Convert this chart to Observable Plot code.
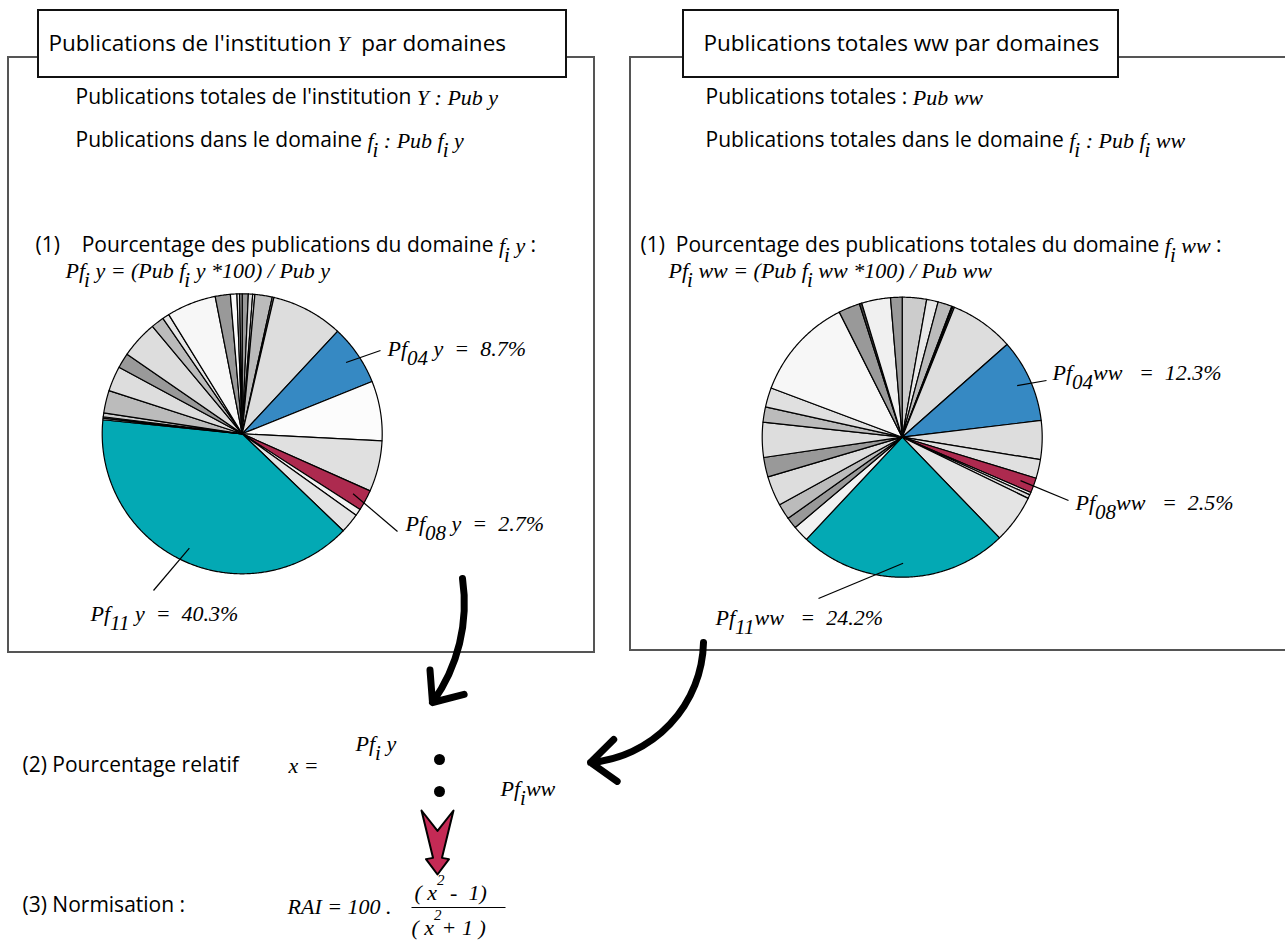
<!DOCTYPE html>
<html><head><meta charset="utf-8">
<script src="https://cdn.jsdelivr.net/npm/d3@7"></script>
<script src="https://cdn.jsdelivr.net/npm/@observablehq/plot@0.6"></script>
<style>body{margin:0;background:#fff}</style>
</head><body><div id="chart"></div>
<script>
// ---------------- DATA ----------------
// Left pie: publications of institution Y per domain (percent, clockwise from 12 o'clock)
const domainsY = ["d01","d02","d03","d05","d06","d07","04","d09","d10","08","d12","d13","11","d14","d15","d16","d17","d18","d19","d20","d21","d22","d23","d24","d25","d26","d27"];
const shareY   = [0.7, 0.5, 0.25, 2.0, 0.2, 8.3, 7.0, 6.9, 5.9, 2.4, 0.8, 2.3, 39.5, 0.2, 0.15, 0.45, 2.6, 2.9, 1.75, 4.3, 1.5, 0.8, 5.7, 1.75, 0.75, 0.3, 0.3];
// Right pie: world-wide publications per domain
const domainsWW = ["e01","e02","e03","e05","e06","e07","04","e09","e10","08","e12","e13","e14","11","e15","e16","e17","e18","e19","e20","e21","e22","e23","e24","e25","e26","e27"];
const shareWW   = [2.8, 1.33, 1.64, 0.14, 0.17, 7.39, 9.61, 4.47, 2.17, 1.72, 0.3, 0.44, 5.58, 24.2, 1.86, 1.31, 1.83, 3.44, 2.25, 4.03, 1.75, 2.25, 11.86, 2.47, 0.28, 3.33, 1.33];
// labelled domains and their printed percentages
const labelDomains = ["04", "08", "11"];
const labelY  = ["8.7%", "2.7%", "40.3%"];
const labelWW = ["12.3%", "2.5%", "24.2%"];

// ---------------- STYLES ----------------
const highlight = {"04": "#3689c3", "08": "#ad2a4f", "11": "#03a9b4"};
const greyY  = ["#999","#ddd","#eee","#bbb","#999","#ddd",null,"#fcfcfc","#e0e0e0",null,"#f2f2f2","#e4e4e4",null,"#ddd","#999","#ccc","#bbb","#ddd","#999","#ddd","#bbb","#e6e6e6","#f7f7f7","#999","#fafafa","#ddd","#999"];
const greyWW = ["#ccc","#e8e8e8","#bbb","#999","#ddd","#ddd",null,"#ddd","#e0e0e0",null,"#f2f2f2","#ddd","#e4e4e4",null,"#f2f2f2","#999","#bbb","#ddd","#999","#ddd","#bbb","#e0e0e0","#f7f7f7","#999","#444","#f0f0f0","#999"];
const FS = {title: 22.5, body: 21, math: 22, label: 22};
const FONT = {sans: "Open Sans", serif: "Liberation Serif"};
const NB = "\u00a0";

// ---------------- LAYOUT ----------------
const pieL = {cx: 241.7, cy: 433.3, r: 140};
const pieR = {cx: 901.7, cy: 436.7, r: 140};
const boxes = [
  {x1: 8, y1: 57, x2: 594, y2: 652, kind: "outer"},
  {x1: 630, y1: 57, x2: 1330, y2: 650, kind: "outer"},
  {x1: 38, y1: 10, x2: 566, y2: 77, kind: "title"},
  {x1: 683, y1: 10, x2: 1118, y2: 77, kind: "title"}
];
const labelAnchorsY  = [{x: 380, y: 350, tx: 387, ty: 348}, {x: 397, y: 531, tx: 405, ty: 523}, {x: 153, y: 590, tx: 90, ty: 613}];
const labelAnchorsWW = [{x: 1046, y: 380, tx: 1052, ty: 372}, {x: 1068, y: 500, tx: 1075, ty: 502}, {x: 818, y: 598, tx: 715, ty: 617}];

// ---------------- HELPERS ----------------
const ctx = document.createElement("canvas").getContext("2d");
function measure(text, fam, size) {
  ctx.font = (fam === "serif" ? "italic " : "") + size + "px '" + FONT[fam] + "'";
  return ctx.measureText(text).width;
}
function layoutRuns(x0, y0, runs) {
  const out = []; let x = x0;
  for (const [text, kind] of runs) {
    let fam = "serif", size = FS.math, dx = 0, dy = 0;
    if (kind === "t") { fam = "sans"; size = FS.title; }
    else if (kind === "s") { fam = "sans"; size = FS.body; }
    else if (kind === "_") { size = FS.math - 1; dx = -1; dy = 10; }
    else if (kind === "^") { size = 15; dy = -12; }
    else if (kind === "L") { size = FS.label; }
    else if (kind === "L_") { size = FS.label - 1; dy = 10; }
    x += dx;
    const lead = text.match(/^\s*/)[0], trimmed = text.trim();
    if (trimmed) out.push({x: x + measure(lead, fam, size), y: y0 + dy, text: trimmed, fam, size});
    x += measure(text, fam, size);
  }
  return out;
}
function pieSlices(values, domains, greys, p, key) {
  const arcs = d3.pie().sort(null).value(d => d)(values);
  const pts = [];
  arcs.forEach((a, i) => {
    const id = key + i, fill = highlight[domains[i]] || greys[i];
    pts.push({id, x: p.cx, y: p.cy, fill});
    const n = Math.max(2, Math.ceil((a.endAngle - a.startAngle) / (Math.PI / 360)));
    for (let k = 0; k <= n; k++) {
      const t = a.startAngle + (a.endAngle - a.startAngle) * k / n;
      pts.push({id, x: p.cx + p.r * Math.sin(t), y: p.cy - p.r * Math.cos(t), fill});
    }
    pts.push({id, x: p.cx, y: p.cy, fill});
  });
  return {pts, arcs};
}
const L = pieSlices(shareY, domainsY, greyY, pieL, "L");
const R = pieSlices(shareWW, domainsWW, greyWW, pieR, "R");

function leader(arcs, domains, p, dom, anchor) {
  const a = arcs[domains.indexOf(dom)], m = (a.startAngle + a.endAngle) / 2;
  return {x1: p.cx + 0.9 * p.r * Math.sin(m), y1: p.cy - 0.9 * p.r * Math.cos(m), x2: anchor.x, y2: anchor.y};
}
const segments = [];
labelDomains.forEach((d, i) => {
  segments.push(leader(L.arcs, domainsY, pieL, d, labelAnchorsY[i]));
  segments.push(leader(R.arcs, domainsWW, pieR, d, labelAnchorsWW[i]));
});
segments.push({x1: 411, y1: 907, x2: 505, y2: 907});

// ---------------- TEXTS ----------------
let texts = [];
const add = (x, y, runs) => { texts = texts.concat(layoutRuns(x, y, runs)); };
// left panel
add(48, 43, [["Publications de l'institution ", "t"], ["Y", "i"], [NB + " par domaines", "t"]]);
add(75, 97, [["Publications totales de l'institution ", "s"], ["Y : Pub y", "i"]]);
add(75, 140, [["Publications dans le domaine ", "s"], ["f", "i"], ["i", "_"], [" : Pub ", "i"], ["f", "i"], ["i", "_"], [" y", "i"]]);
add(35, 245, [["(1)" + NB + NB + NB + " Pourcentage des publications du domaine ", "s"], ["f", "i"], ["i", "_"], [" y", "i"], [" :", "s"]]);
add(65, 270, [["Pf", "i"], ["i", "_"], [" y" + NB + "=" + NB + "(Pub" + NB + "f", "i"], ["i", "_"], [" y" + NB + "*100)" + NB + "/" + NB + "Pub" + NB + "y", "i"]]);
// right panel
add(703, 43, [["Publications totales ww par domaines", "t"]]);
add(705, 97, [["Publications totales : ", "s"], ["Pub ww", "i"]]);
add(705, 140, [["Publications totales dans le domaine ", "s"], ["f", "i"], ["i", "_"], [" : Pub ", "i"], ["f", "i"], ["i", "_"], [" ww", "i"]]);
add(640, 245, [["(1)" + NB + " Pourcentage des publications totales du domaine ", "s"], ["f", "i"], ["i", "_"], [" ww", "i"], [" :", "s"]]);
add(668, 270, [["Pf", "i"], ["i", "_"], [" ww" + NB + "=" + NB + "(Pub" + NB + "f", "i"], ["i", "_"], [" ww" + NB + "*100)" + NB + "/" + NB + "Pub" + NB + "ww", "i"]]);
// pie labels
labelDomains.forEach((d, i) => {
  const a = labelAnchorsY[i], b = labelAnchorsWW[i];
  add(a.tx, a.ty, [["Pf", "L"], [d, "L_"], [" y" + NB + " =" + NB + " " + labelY[i], "L"]]);
  add(b.tx, b.ty, [["Pf", "L"], [d, "L_"], ["ww" + NB + NB + " =" + NB + " " + labelWW[i], "L"]]);
});
// bottom
add(22, 765, [["(2) Pourcentage relatif", "s"]]);
add(288, 765, [["x =", "i"]]);
add(355, 743, [["Pf", "L"], ["i", "L_"], [" y", "L"]]);
add(500, 788, [["Pf", "L"], ["i", "L_"], ["ww", "L"]]);
add(22, 905, [["(3) Normisation :", "s"]]);
add(287, 906, [["RAI = 100 .", "i"]]);
add(414, 892, [["( x", "i"], ["2", "^"], [NB + "-" + NB + " 1)", "i"]]);
add(411, 927, [["( x", "i"], ["2", "^"], ["+ 1 )", "i"]]);

const colonDots = [{x: 439, y: 759}, {x: 439, y: 791}];
const bendL = [{x1: 462, y1: 578, x2: 432, y2: 702}];
const bendR = [{x1: 703, y1: 642, x2: 590, y2: 762}];
// red down arrow (notched tail), built from its box
const redBox = {cx: 437, top: 810, w: 32, h: 64};
const redShape = [[0,0],[0.5,0.32],[1,0],[0.64,0.74],[0.86,0.76],[0.5,1],[0.14,0.76],[0.36,0.74],[0,0]]
  .map(([u, v]) => ({x: redBox.cx - redBox.w / 2 + u * redBox.w, y: redBox.top + v * redBox.h}));

const chart = Plot.plot({
  width: 1285, height: 950, margin: 0,
  x: {domain: [0, 1285], range: [0, 1285], axis: null},
  y: {domain: [0, 950], range: [0, 950], axis: null},
  color: {type: "identity"},
  style: {background: "white"},
  marks: [
    Plot.rect(boxes.filter(d => d.kind === "outer"), {x1: "x1", x2: "x2", y1: "y1", y2: "y2", fill: "white", stroke: "#555", strokeWidth: 2}),
    Plot.rect(boxes.filter(d => d.kind === "title"), {x1: "x1", x2: "x2", y1: "y1", y2: "y2", fill: "white", stroke: "#111", strokeWidth: 2}),
    Plot.line(L.pts, {x: "x", y: "y", z: "id", fill: "fill", stroke: "#000", strokeWidth: 1.2, strokeLinejoin: "round"}),
    Plot.line(R.pts, {x: "x", y: "y", z: "id", fill: "fill", stroke: "#000", strokeWidth: 1.2, strokeLinejoin: "round"}),
    Plot.link(segments, {x1: "x1", y1: "y1", x2: "x2", y2: "y2", stroke: "#000", strokeWidth: 1.2}),
    Plot.arrow(bendL, {x1: "x1", y1: "y1", x2: "x2", y2: "y2", bend: 22, stroke: "#000", strokeWidth: 7, headLength: 7, headAngle: 80}),
    Plot.arrow(bendR, {x1: "x1", y1: "y1", x2: "x2", y2: "y2", bend: 42, stroke: "#000", strokeWidth: 7, headLength: 7, headAngle: 80}),
    Plot.line(redShape, {x: "x", y: "y", fill: "#c42a55", stroke: "#000", strokeWidth: 2}),
    Plot.dot(colonDots, {x: "x", y: "y", r: 5.5, fill: "#000"}),
    Plot.text(texts.filter(d => d.fam === "sans"), {x: "x", y: "y", text: "text", fontSize: "size", fontFamily: FONT.sans, textAnchor: "start", fill: "#000"}),
    Plot.text(texts.filter(d => d.fam === "serif"), {x: "x", y: "y", text: "text", fontSize: "size", fontFamily: FONT.serif, fontStyle: "italic", textAnchor: "start", fill: "#000"})
  ]
});
document.getElementById("chart").appendChild(chart);
</script>
</body></html>
